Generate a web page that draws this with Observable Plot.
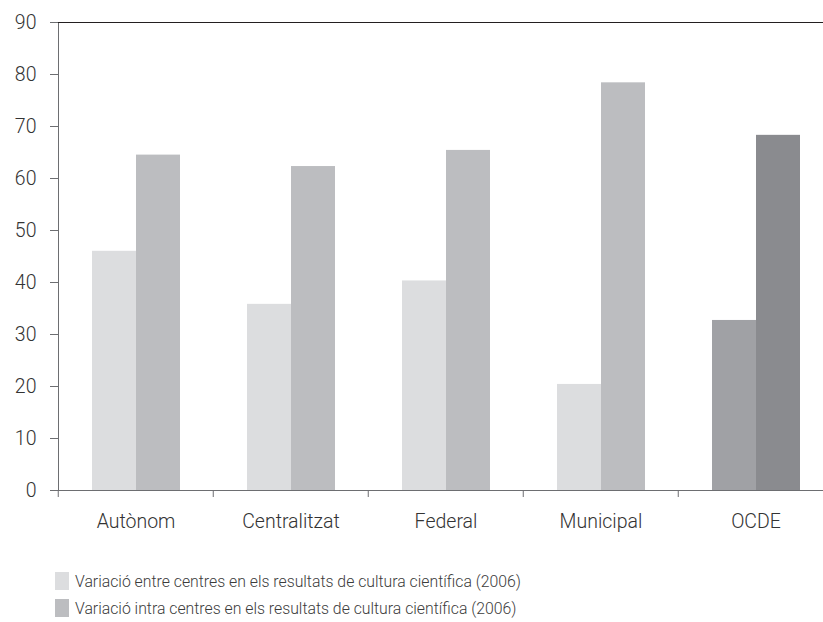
<!DOCTYPE html>
<html>
<head>
<meta charset="utf-8">
<script src="https://cdn.jsdelivr.net/npm/d3@7"></script>
<script src="https://cdn.jsdelivr.net/npm/@observablehq/plot@0.6"></script>
<style>
  html, body { margin: 0; padding: 0; background: #fff; overflow: hidden; }
  #chart { width: 823px; }
  svg { overflow: visible; }
  .legend { margin-left: 55px; margin-top: 27px; font-family: Roboto, "Liberation Sans", sans-serif; font-weight: 300; font-size: 15.8px; color: #3c3c3c; }
  .legend .item { display: flex; align-items: center; height: 18px; margin-bottom: 9px; }
  .legend .sw { width: 14px; height: 18px; margin-right: 6px; }
</style>
</head>
<body>
<div id="chart"></div>
<script>
const categories = ["Autònom", "Centralitzat", "Federal", "Municipal", "OCDE"];
const series = ["entre", "intra"];
const seriesLabels = [
  "Variació entre centres en els resultats de cultura científica (2006)",
  "Variació intra centres en els resultats de cultura científica (2006)"
];
const entreValues = [46.0, 35.8, 40.3, 20.4, 32.7];
const intraValues = [64.5, 62.3, 65.4, 78.4, 68.3];
const entreColors = ["#dcdddf", "#dcdddf", "#dcdddf", "#dcdddf", "#a0a1a5"];
const intraColors = ["#bcbdc0", "#bcbdc0", "#bcbdc0", "#bcbdc0", "#8a8b8f"];
const yTicks = [0, 10, 20, 30, 40, 50, 60, 70, 80, 90];

const rows = [];
categories.forEach((c, i) => {
  rows.push({category: c, series: series[0], value: entreValues[i], color: entreColors[i]});
  rows.push({category: c, series: series[1], value: intraValues[i], color: intraColors[i]});
});

const W = 823;
const chart = Plot.plot({
  width: W,
  height: 545,
  marginLeft: 57,
  marginRight: -11.5,
  marginTop: 22,
  marginBottom: 55,
  style: {fontFamily: "Roboto, 'Liberation Sans', sans-serif", fontWeight: 300, fontSize: "19.5px", color: "#333", background: "#fff"},
  fx: {domain: categories, padding: 0, label: null},
  x: {domain: series, paddingInner: 0, paddingOuter: 0.74, label: null, axis: null},
  y: {domain: [0, 90], label: null},
  color: {type: "identity"},
  marks: [
    Plot.barY(rows, {fx: "category", x: "series", y: "value", fill: "color"}),
    Plot.frame({anchor: "left", facet: "super", stroke: "#6d6e71"}),
    Plot.ruleY([0], {stroke: "#6d6e71", strokeWidth: 1}),
    Plot.ruleY([90], {stroke: "#231f20", strokeWidth: 1}),
    Plot.axisY({ticks: yTicks, tickSize: 8, tickPadding: 14, stroke: "#6d6e71", fill: "#333", fontSize: 19.5, tickFormat: d => d}),
    Plot.axisFx({anchor: "bottom", tickSize: 0, tickPadding: 24, fontSize: 19.5, fill: "#333", label: null}),
    Plot.axisFx({anchor: "bottom", tickSize: 7, tickFormat: () => "", dx: -77.75, stroke: "#6d6e71", label: null})
  ]
});
document.getElementById("chart").appendChild(chart);

const legend = document.createElement("div");
legend.className = "legend";
seriesLabels.forEach((lab, i) => {
  const item = document.createElement("div");
  item.className = "item";
  const sw = document.createElement("div");
  sw.className = "sw";
  sw.style.background = i === 0 ? entreColors[0] : intraColors[0];
  const t = document.createElement("span");
  t.textContent = lab;
  item.appendChild(sw);
  item.appendChild(t);
  legend.appendChild(item);
});
document.getElementById("chart").appendChild(legend);
</script>
</body>
</html>
